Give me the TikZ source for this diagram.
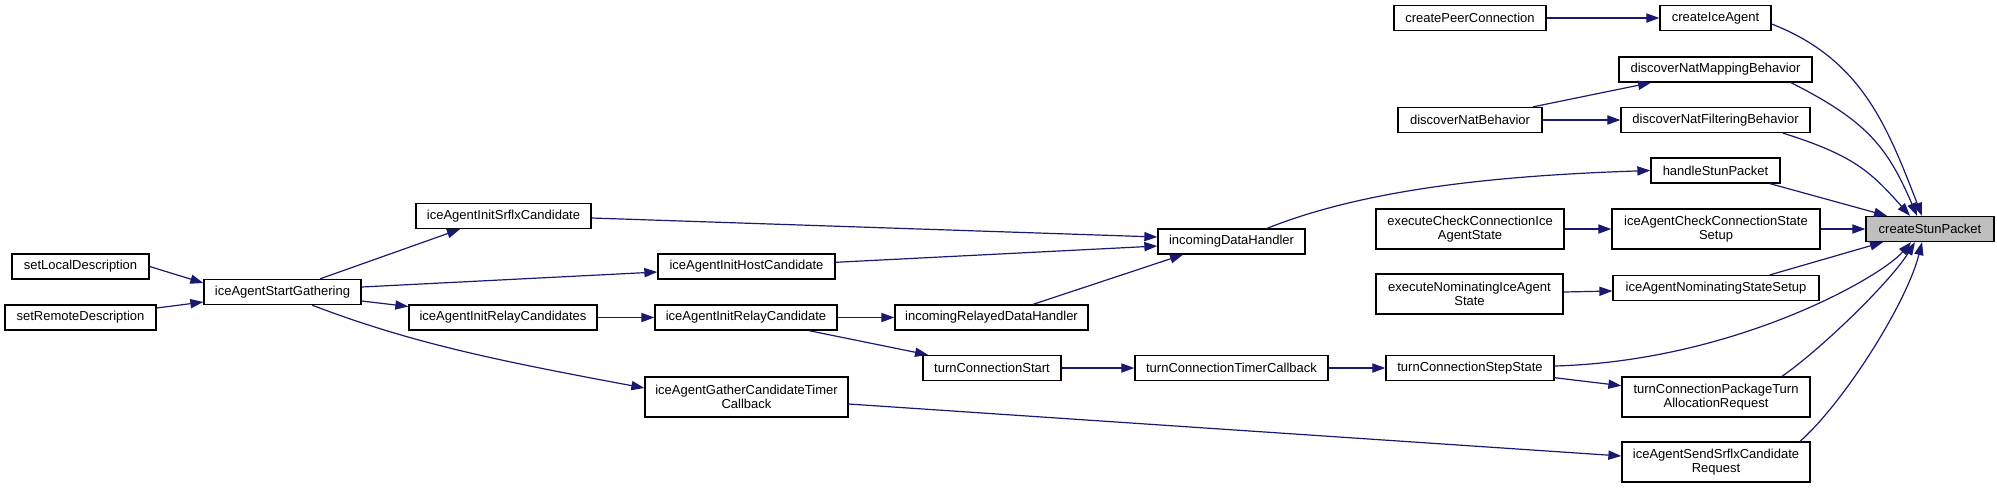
\documentclass[tikz,border=0pt]{standalone}
\usepackage{fontspec}
\setmainfont{Liberation Sans}
\usetikzlibrary{arrows.meta}
\definecolor{dgEdgeColor}{RGB}{25,25,112}
\definecolor{dgRootFill}{RGB}{191,191,191}

\begin{document}
\begin{tikzpicture}
% Caller graph of createStunPacket
\def\px{0.5pt}
\providecommand{\dgBoxLineWidth}{0.65pt}
\providecommand{\dgEdgeLineWidth}{0.6pt}
\begin{scope}[x=\px, y=-\px, font=\fontsize{6.5}{7}\selectfont,
  fn/.style={draw=black, fill=white, line width=\dgBoxLineWidth, inner sep=0pt, minimum height=12.5pt, minimum width=#1*\px, align=center},
  fn2/.style={fn=#1, minimum height=20pt},
  callarrow/.style={draw=dgEdgeColor, line width=\dgEdgeLineWidth, -{Triangle[length=6.5pt,width=4.6pt]}}]
  \useasboundingbox (0,0) rectangle (1997,489);
  % Callers, left to right
  \node[fn=137] (sld) at (80.5,266.5) {setLocalDescription};
  \node[fn=151] (srd) at (80.5,317.5) {setRemoteDescription};
  \node[fn=157] (iasg) at (282.5,292) {iceAgentStartGathering};
  \node[fn=175] (iaisc) at (503.5,216) {iceAgentInitSrflxCandidate};
  \node[fn=188] (iaircs) at (503,317.5) {iceAgentInitRelayCandidates};
  \node[fn=177] (iaihc) at (746.5,266.5) {iceAgentInitHostCandidate};
  \node[fn=182] (iairc) at (746,317.5) {iceAgentInitRelayCandidate};
  \node[fn2=203] (iagctc) at (746.5,397) {iceAgentGatherCandidateTimer\\Callback};
  \node[fn=193] (irdh) at (991.5,317.5) {incomingRelayedDataHandler};
  \node[fn=138] (tcs) at (992,368) {turnConnectionStart};
  \node[fn=147] (idh) at (1231.5,241.5) {incomingDataHandler};
  \node[fn=193] (tctc) at (1231.5,368) {turnConnectionTimerCallback};
  \node[fn=152] (cpc) at (1470,18) {createPeerConnection};
  \node[fn=144] (dnb) at (1470,120) {discoverNatBehavior};
  \node[fn2=188] (eccias) at (1470,229) {executeCheckConnectionIce\\AgentState};
  \node[fn2=187] (enias) at (1469.5,294) {executeNominatingIceAgent\\State};
  \node[fn=168] (tcss) at (1470,368) {turnConnectionStepState};
  \node[fn=111] (cia) at (1715.5,18) {createIceAgent};
  \node[fn=193] (dnmb) at (1715.5,69.5) {discoverNatMappingBehavior};
  \node[fn=189] (dnfb) at (1715.5,120) {discoverNatFilteringBehavior};
  \node[fn=129] (hsp) at (1715.5,170.5) {handleStunPacket};
  \node[fn2=208] (iaccss) at (1716,229) {iceAgentCheckConnectionState\\Setup};
  \node[fn=206] (ianss) at (1716,288) {iceAgentNominatingStateSetup};
  \node[fn2=188] (tcptar) at (1716,397) {turnConnectionPackageTurn\\AllocationRequest};
  \node[fn2=188] (iassr) at (1716,462) {iceAgentSendSrflxCandidate\\Request};
  % The function itself
  \node[fn=128, fill=dgRootFill] (csp) at (1930,229) {createStunPacket};
  % Calls
  \draw[callarrow] (sld.east) -- ([yshift=4.5pt]iasg.west);
  \draw[callarrow] ([yshift=4.75pt]srd.east) -- ([yshift=-5pt]iasg.west);
  \draw[callarrow] ([xshift=18.75pt]iasg.north) -- ([xshift=-21.75pt]iaisc.south);
  \draw[callarrow] ([yshift=2.5pt]iasg.east) -- ([yshift=-2.75pt]iaihc.west);
  \draw[callarrow] ([yshift=-4.5pt]iasg.east) -- ([yshift=5.5pt]iaircs.west);
  \draw[callarrow] ([xshift=14.75pt]iasg.south) .. controls +(100,38) and +(-150,-28) .. ([yshift=4.5pt]iagctc.west);
  \draw[callarrow] ([yshift=-1pt]iaisc.east) -- ([yshift=2.25pt]idh.west);
  \draw[callarrow] ([yshift=2.1pt]iaihc.east) -- ([yshift=-2.25pt]idh.west);
  \draw[callarrow] (iaircs) -- (iairc);
  \draw[callarrow] (iairc) -- (irdh);
  \draw[callarrow] ([xshift=31.5pt]iairc.south) -- ([xshift=-32pt]tcs.north);
  \draw[callarrow] ([xshift=20.75pt]irdh.north) -- ([xshift=-24.25pt]idh.south);
  \draw[callarrow] (tcs) -- (tctc);
  \draw[callarrow] (tctc) -- (tcss);
  \draw[callarrow] ([xshift=17.75pt]idh.north) .. controls +(100,-40) and +(-150,5) .. (hsp.west);
  \draw[callarrow] ([yshift=-3.5pt]iagctc.east) -- ([yshift=3pt]iassr.west);
  \draw[callarrow] (cpc) -- (cia);
  \draw[callarrow] ([xshift=31.5pt]dnb.north) -- ([xshift=-32.25pt]dnmb.south);
  \draw[callarrow] (dnb) -- (dnfb);
  \draw[callarrow] (eccias) -- (iaccss);
  \draw[callarrow] ([yshift=1pt]enias.east) -- ([yshift=-1.5pt]ianss.west);
  \draw[callarrow] ([yshift=-4.85pt]tcss.east) -- ([yshift=5.65pt]tcptar.west);
  % Into createStunPacket
  \draw[callarrow] ([yshift=-3pt]cia.east) .. controls +(90,35) and +(-35,-90) .. ([xshift=-4pt]csp.north);
  \draw[callarrow] ([xshift=37.75pt]dnmb.south) .. controls +(75,38) and +(-30,-70) .. ([xshift=-6.5pt]csp.north);
  \draw[callarrow] ([xshift=33.75pt]dnfb.south) .. controls +(70,22) and +(-40,-45) .. ([xshift=-10pt]csp.north);
  \draw[callarrow] ([xshift=27.25pt]hsp.south) -- ([xshift=-21.5pt]csp.north);
  \draw[callarrow] (iaccss) -- (csp);
  \draw[callarrow] ([xshift=27pt]ianss.north) -- ([xshift=-23.5pt]csp.south);
  \draw[callarrow] ([yshift=1pt]tcss.east) .. controls +(180,-5) and +(-30,35) .. ([xshift=-9.5pt]csp.south);
  \draw[callarrow] ([xshift=33pt]tcptar.north) .. controls +(40,-28) and +(-25,40) .. ([xshift=-7.5pt]csp.south);
  \draw[callarrow] ([xshift=42pt]iassr.north) .. controls +(45,-40) and +(-15,60) .. ([xshift=-4pt]csp.south);
\end{scope}
\end{tikzpicture}
\end{document}
